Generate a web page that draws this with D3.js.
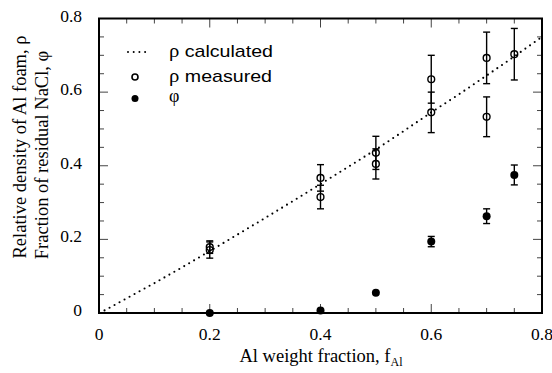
<!DOCTYPE html>
<html><head><meta charset="utf-8">
<script src="https://cdn.jsdelivr.net/npm/d3@7"></script>
<style>body{margin:0;background:#fff}svg{display:block}</style>
</head><body>
<svg id="c" width="552" height="373"></svg>
<script>
// ---- data ----
const xTickLabels = [0, 0.2, 0.4, 0.6, 0.8];
const yTickLabels = [0, 0.2, 0.4, 0.6, 0.8];
const minorTicks = [0,0.05,0.1,0.15,0.2,0.25,0.3,0.35,0.4,0.45,0.5,0.55,0.6,0.65,0.7,0.75,0.8];

const calcF   = [0.01, 0.05, 0.1, 0.15, 0.2, 0.25, 0.3, 0.35, 0.4, 0.45, 0.5, 0.55, 0.6, 0.65, 0.7, 0.75, 0.8];
const calcRho = [0.007, 0.04, 0.081, 0.124, 0.168, 0.213, 0.258, 0.304, 0.35, 0.397, 0.444, 0.494, 0.545, 0.594, 0.645, 0.697, 0.75];

const measF   = [0.2, 0.2, 0.4, 0.4, 0.5, 0.5, 0.6, 0.6, 0.7, 0.7, 0.75];
const measRho = [0.179, 0.171, 0.367, 0.315, 0.435, 0.405, 0.635, 0.545, 0.693, 0.533, 0.703];
const measErr = [0.017, 0.022, 0.036, 0.032, 0.045, 0.041, 0.065, 0.055, 0.07, 0.054, 0.07];

const phiF   = [0.2, 0.4, 0.5, 0.6, 0.7, 0.75];
const phiVal = [0, 0.007, 0.055, 0.194, 0.263, 0.375];
const phiErr = [0, 0, 0, 0.014, 0.02, 0.027];

const legendLabels = ["calculated", "measured", ""];

// ---- chart ----
const svg = d3.select("#c");
const L = 99, R = 542, T = 18.5, B = 313;
const x = d3.scaleLinear().domain([0, 0.8]).range([L, R]);
const y = d3.scaleLinear().domain([0, 0.8]).range([B, T]);
const serif = "'Liberation Serif','Times New Roman',serif";
const sans = "'Liberation Sans',Arial,Helvetica,sans-serif";

// ticks (inward on all sides)
const isMajor = v => Math.abs(v*5 - Math.round(v*5)) < 1e-6;
const tg = svg.append("g").attr("stroke", "#444").attr("stroke-width", 1);
minorTicks.forEach(v => {
  const len = isMajor(v) ? 9 : 5;
  tg.append("line").attr("x1", x(v)).attr("x2", x(v)).attr("y1", B).attr("y2", B - len);
  tg.append("line").attr("x1", x(v)).attr("x2", x(v)).attr("y1", T).attr("y2", T + len);
  tg.append("line").attr("y1", y(v)).attr("y2", y(v)).attr("x1", L).attr("x2", L + len);
  tg.append("line").attr("y1", y(v)).attr("y2", y(v)).attr("x1", R).attr("x2", R - len);
});

// frame
svg.append("rect").attr("x", L).attr("y", T).attr("width", R - L).attr("height", B - T)
  .attr("fill", "none").attr("stroke", "#000").attr("stroke-width", 2);

// tick labels
svg.append("g").selectAll("text").data(xTickLabels).join("text")
  .attr("x", d => x(d)).attr("y", 340).attr("text-anchor", "middle")
  .attr("font-family", serif).attr("font-size", 17.5)
  .text(d => d === 0 ? "0" : d3.format(".1f")(d));
svg.append("g").selectAll("text").data(yTickLabels).join("text")
  .attr("x", 82).attr("y", d => y(d) + 3).attr("text-anchor", "end")
  .attr("font-family", serif).attr("font-size", 17.5)
  .text(d => d === 0 ? "0" : d3.format(".1f")(d));

// axis titles
const xt = svg.append("text").attr("x", 321).attr("y", 362).attr("text-anchor", "middle")
  .attr("font-family", serif).attr("font-size", 18.5);
xt.append("tspan").text("Al weight fraction, f");
xt.append("tspan").attr("font-size", 12).attr("dy", 4).text("Al");

svg.append("text").attr("transform", "translate(26,147) rotate(-90)").attr("text-anchor", "middle")
  .attr("font-family", serif).attr("font-size", 18.5).text("Relative density of Al foam, ρ");
svg.append("text").attr("transform", "translate(48,155) rotate(-90)").attr("text-anchor", "middle")
  .attr("font-family", serif).attr("font-size", 18.5).text("Fraction of residual NaCl, φ");

// calculated line (dotted)
const plot = svg.append("g");
plot.append("path")
  .datum(calcF.map((f, i) => [f, calcRho[i]]))
  .attr("d", d3.line().x(d => x(d[0])).y(d => y(d[1])))
  .attr("fill", "none").attr("stroke", "#000").attr("stroke-width", 2.1)
  .attr("stroke-linecap", "round").attr("stroke-dasharray", "0 5.7");

// error bars helper
function errBars(fs, vs, es) {
  const g = plot.append("g").attr("stroke", "#000").attr("stroke-width", 1.4);
  fs.forEach((f, i) => {
    if (!es[i]) return;
    const cx = x(f), y1 = y(vs[i] + es[i]), y2 = y(vs[i] - es[i]);
    g.append("line").attr("x1", cx).attr("x2", cx).attr("y1", y1).attr("y2", y2);
    g.append("line").attr("x1", cx - 3.5).attr("x2", cx + 3.5).attr("y1", y1).attr("y2", y1);
    g.append("line").attr("x1", cx - 3.5).attr("x2", cx + 3.5).attr("y1", y2).attr("y2", y2);
  });
}
errBars(measF, measRho, measErr);
errBars(phiF, phiVal, phiErr);

// measured (open circles)
plot.append("g").selectAll("circle").data(measF).join("circle")
  .attr("cx", d => x(d)).attr("cy", (d, i) => y(measRho[i])).attr("r", 3.4)
  .attr("fill", "none").attr("stroke", "#000").attr("stroke-width", 1.4);

// phi (filled)
plot.append("g").selectAll("circle").data(phiF).join("circle")
  .attr("cx", d => x(d)).attr("cy", (d, i) => y(phiVal[i])).attr("r", 4)
  .attr("fill", "#000");

// legend
const lg = svg.append("g");
lg.append("line").attr("x1", 128).attr("x2", 148).attr("y1", 52).attr("y2", 52)
  .attr("stroke", "#000").attr("stroke-width", 2).attr("stroke-linecap", "round")
  .attr("stroke-dasharray", "0 5.7");
lg.append("circle").attr("cx", 135).attr("cy", 77).attr("r", 3).attr("fill", "none")
  .attr("stroke", "#000").attr("stroke-width", 1.6);
lg.append("circle").attr("cx", 135).attr("cy", 98.5).attr("r", 3.5).attr("fill", "#000");

const legY = [57, 81.5, 102];
const legLen = [104, 103, 0];
const greek = ["ρ", "ρ", "φ"];
legendLabels.forEach((lab, i) => {
  const t = lg.append("text").attr("x", 169).attr("y", legY[i]).attr("font-size", 17);
  t.append("tspan").attr("font-family", serif).attr("font-size", 18).text(greek[i]);
  if (lab) {
    t.append("tspan").attr("font-family", sans).text(" " + lab);
    t.attr("textLength", legLen[i]).attr("lengthAdjust", "spacingAndGlyphs");
  }
});
</script>
</body></html>
